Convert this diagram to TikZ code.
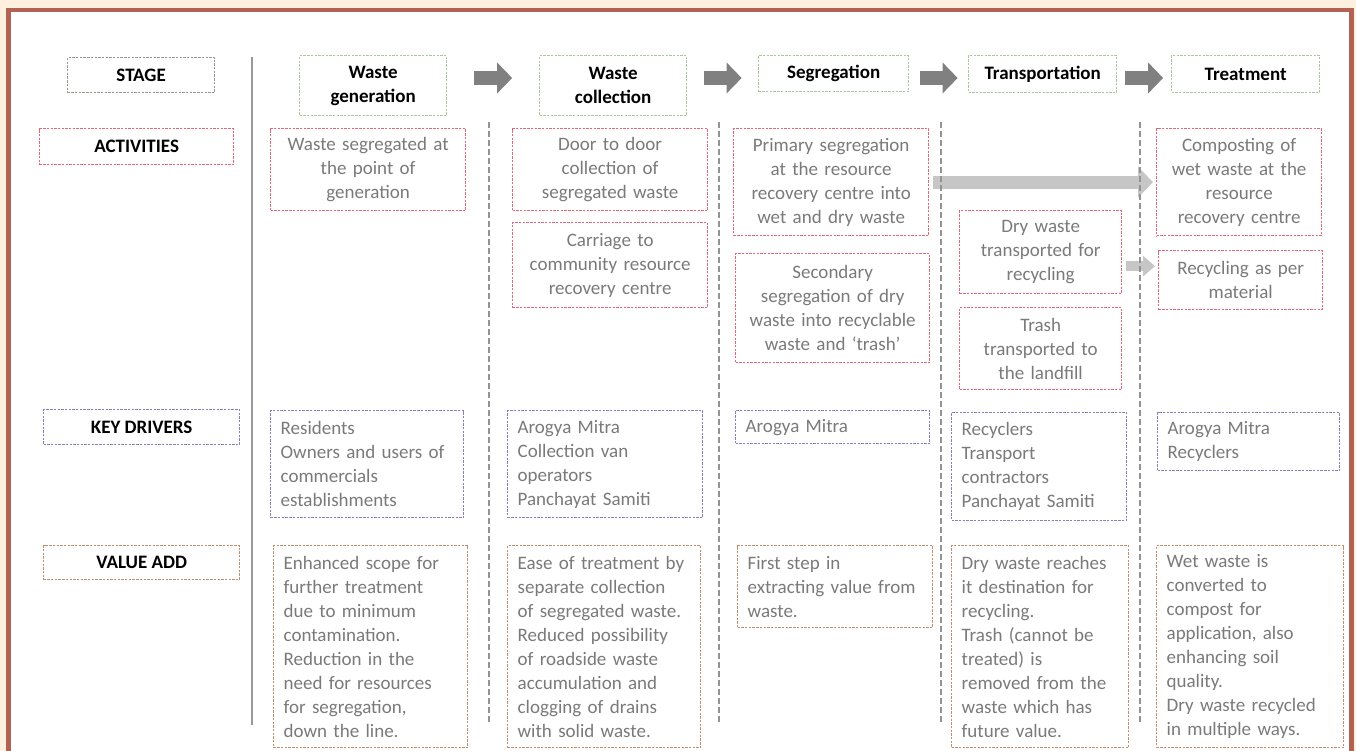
\documentclass[tikz,border=0pt]{standalone}
\usepackage{fontspec}
\setmainfont{Carlito}
\usetikzlibrary{arrows.meta,calc}
\definecolor{framebrown}{RGB}{178,98,82}
\definecolor{cream}{RGB}{253,240,222}
\definecolor{stagegreen}{RGB}{172,196,160}
\definecolor{actred}{RGB}{224,104,122}
\definecolor{keypurple}{RGB}{142,124,192}
\definecolor{valbrown}{RGB}{192,142,112}
\definecolor{bodygray}{RGB}{122,122,122}
\tikzset{
  wmcell/.style={draw, line width=1.3pt, dash pattern=on 2.4pt off 1.3pt, anchor=north west,
    inner ysep=3pt, font=\fontsize{19}{24}\selectfont},
  wmhead/.style={wmcell, font=\bfseries\fontsize{19}{24}\selectfont, align=center, inner xsep=2pt},
  wmbody/.style={wmcell, text=bodygray},
  wmarr/.style={-{Triangle[length=15pt, width=30pt]}, line width=14pt, draw=gray},
}

\begin{document}
\begin{tikzpicture}[
  x=1pt, y=-1pt,
  stagebox/.style={wmhead, draw=stagegreen},
  acthead/.style={wmhead, draw=actred},
  keyhead/.style={wmhead, draw=keypurple},
  valhead/.style={wmhead, draw=valbrown},
  actbox/.style={wmbody, draw=actred, align=center, inner xsep=4pt},
  keybox/.style={wmbody, draw=keypurple, align=left, inner xsep=10pt},
  valbox/.style={wmbody, draw=valbrown, align=left, inner xsep=10pt},
  flowarr/.style={wmarr, draw=gray!45, line width=13pt},
  colsep/.style={draw=gray!85, line width=1.3pt, dash pattern=on 6pt off 3pt},
]
  % page and frame
  \useasboundingbox (0,0) rectangle (1356,751);
  \fill[cream] (0,0) rectangle (1356,751);
  \filldraw[fill=white, draw=framebrown, line width=4.5pt] (8.5,10) rectangle (1351.5,780);
  \draw[gray!80, line width=1.8pt] (252,57) -- (252,725);

  % row headers
  \node[stagebox, draw=gray!60!stagegreen, minimum width=147pt, minimum height=35pt] (hstage) at (67,57) {STAGE};
  \node[acthead, minimum width=194pt, minimum height=36pt] (hact) at (39,128) {ACTIVITIES};
  \node[keyhead, minimum width=196pt, minimum height=35pt] (hkey) at (43,409) {KEY DRIVERS};
  \node[valhead, minimum width=196pt, minimum height=34pt] (hval) at (43,545) {VALUE ADD};

  % stages
  \node[stagebox, minimum width=147pt, minimum height=60pt] (s1) at (299,55) {Waste\\generation};
  \node[stagebox, minimum width=147pt, minimum height=60pt] (s2) at (539,55) {Waste\\collection};
  \node[stagebox, minimum width=150pt, minimum height=36pt] (s3) at (758,55) {Segregation};
  \node[stagebox, minimum width=148pt, minimum height=37pt] (s4) at (968,55) {Transportation};
  \node[stagebox, minimum width=148pt, minimum height=37pt] (s5) at (1171,55) {Treatment};

  % activities
  \node[actbox, text width=187pt, minimum height=82pt] (a1) at (270,128) {Waste segregated at\\the point of\\generation};
  \node[actbox, text width=187pt, minimum height=82pt] (a2a) at (512,128) {Door to door\\collection of\\segregated waste};
  \node[actbox, text width=187pt, minimum height=85pt] (a2b) at (512,222) {Carriage to\\community resource\\recovery centre};
  \node[actbox, text width=187pt, minimum height=107pt] (a3a) at (733,128) {Primary segregation\\at the resource\\recovery centre into\\wet and dry waste};
  \node[actbox, text width=186pt, minimum height=109pt] (a3b) at (735,253) {Secondary\\segregation of dry\\waste into recyclable\\waste and `trash'};
  \node[actbox, text width=154pt, minimum height=83pt] (a4a) at (959,210) {Dry waste\\transported for\\recycling};
  \node[actbox, text width=154pt, minimum height=82pt] (a4b) at (959,307) {Trash\\transported to\\the landfill};
  \node[actbox, text width=157pt, minimum height=107pt] (a5a) at (1156,128) {Composting of\\wet waste at the\\resource\\recovery centre};
  \node[actbox, text width=156pt, minimum height=59pt] (a5b) at (1158,250) {Recycling as per\\material};

  % key drivers
  \node[keybox, text width=173pt, minimum height=107pt] (k1) at (270,410) {Residents\\Owners and users of\\commercials\\establishments};
  \node[keybox, text width=175pt, minimum height=107pt] (k2) at (507,410) {Arogya Mitra\\Collection van\\operators\\Panchayat Samiti};
  \node[keybox, text width=174pt, minimum height=33pt] (k3) at (735,410) {Arogya Mitra};
  \node[keybox, text width=155pt, minimum height=108pt] (k4) at (951,412) {Recyclers\\Transport\\contractors\\Panchayat Samiti};
  \node[keybox, text width=162pt, minimum height=58pt] (k5) at (1157,412) {Arogya Mitra\\Recyclers};

  % value add
  \node[valbox, text width=174pt, minimum height=202pt] (v1) at (273,545) {Enhanced scope for\\further treatment\\due to minimum\\contamination.\\Reduction in the\\need for resources\\for segregation,\\down the line.};
  \node[valbox, text width=173pt, minimum height=202pt] (v2) at (507,545) {Ease of treatment by\\separate collection\\of segregated waste.\\Reduced possibility\\of roadside waste\\accumulation and\\clogging of drains\\with solid waste.};
  \node[valbox, text width=175pt, minimum height=82pt] (v3) at (737,545) {First step in\\extracting value from\\waste.};
  \node[valbox, text width=157pt, minimum height=202pt] (v4) at (951,545) {Dry waste reaches\\it destination for\\recycling.\\Trash (cannot be\\treated) is\\removed from the\\waste which has\\future value.};
  \node[valbox, text width=167pt, minimum height=202pt] (v5) at (1156,545) {Wet waste is\\converted to\\compost for\\application, also\\enhancing soil\\quality.\\Dry waste recycled\\in multiple ways.};

  % arrows
  \coordinate (arrrow) at (0,78);
  \foreach \a/\b in {s1/s2,s2/s3,s3/s4,s4/s5}
    \draw[wmarr] ($(\a.east |- arrrow)!.5!(\b.west |- arrrow)$) ++(-19pt,0) -- ++(38pt,0);
  \draw[flowarr, shorten <=4pt, shorten >=3pt] (a3a.east) -- (a5a.west);
  \path (a4a.east) -- (a5b.west) coordinate[midway] (m45);
  \draw[flowarr, line width=10pt, -{Triangle[length=12pt, width=20pt]}, shorten <=4pt, shorten >=3pt]
    (a4a.east |- m45) -- (a5b.west |- m45);

  % column separators
  \foreach \x in {489,719,941,1140}
    \draw[colsep] (\x,122) -- (\x,722);
\end{tikzpicture}
\end{document}
